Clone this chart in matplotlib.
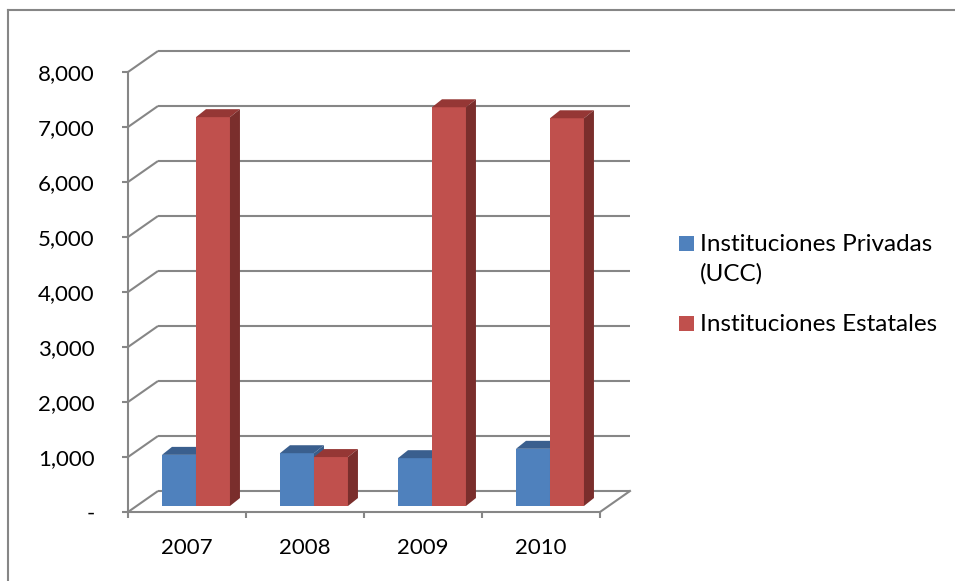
import matplotlib
matplotlib.use("Agg")
import matplotlib.pyplot as plt
from matplotlib.patches import Polygon, Rectangle
from matplotlib.lines import Line2D
import numpy as np

plt.rcParams['font.family'] = ['Lato', 'DejaVu Sans']

years = ["2007", "2008", "2009", "2010"]
privadas = [930, 960, 870, 1040]
estatales = [7070, 890, 7250, 7050]
series_names = ["Instituciones Privadas\n(UCC)", "Instituciones Estatales"]
ytick_vals = [0, 1000, 2000, 3000, 4000, 5000, 6000, 7000, 8000]
ytick_labels = ["-", "1,000", "2,000", "3,000", "4,000", "5,000", "6,000", "7,000", "8,000"]

W, H = 955, 581
fig = plt.figure(figsize=(W / 100, H / 100), dpi=100)
fig.patch.set_facecolor("white")

# axes: front plane in pixels x 128..600, y 72..512 (from top)
ax = fig.add_axes([128 / W, (H - 512) / H, 472 / W, 440 / H])
ax.set_xlim(0, 4)
ax.set_ylim(0, 8000)
ax.set_facecolor("none")

grid_c = "#868686"
lw = 1.5
DX, DY = 30 / 118, 21 / 55 * 1000          # wall depth
BX0, BY0 = 0.076, 109                      # bar front offset
BDX, BDY = 10 / 118, 145                   # bar depth
BW = 0.288

# walls
for v in ytick_vals:
    ax.plot([0, DX], [v, v + DY], color=grid_c, lw=lw, clip_on=False, zorder=1, solid_capstyle="butt")
    ax.plot([DX, 4 + DX], [v + DY, v + DY], color=grid_c, lw=lw, clip_on=False, zorder=1, solid_capstyle="butt")
ax.plot([4, 4 + DX], [0, DY], color=grid_c, lw=lw, clip_on=False, zorder=1)

colors = [("#4F81BD", "#3A5F8E", "#385D8A"), ("#C0504D", "#953735", "#7A2E2C")]
x = np.arange(len(years))
for i in range(len(years)):
    for s, vals in enumerate([privadas, estatales]):
        front, top, side = colors[s]
        x0 = x[i] + 0.5 - BW + s * BW + BX0
        v = vals[i]
        z = 3 + i * 2 + s
        ax.bar(x0, v, width=BW, bottom=BY0, align="edge", color=front, zorder=z, clip_on=False)
        ytop = BY0 + v
        ax.add_patch(Polygon([[x0, ytop], [x0 + BDX, ytop + BDY], [x0 + BW + BDX, ytop + BDY], [x0 + BW, ytop]],
                             closed=True, facecolor=top, edgecolor="none", zorder=z, clip_on=False))
        ax.add_patch(Polygon([[x0 + BW, BY0], [x0 + BW + BDX, BY0 + BDY], [x0 + BW + BDX, ytop + BDY], [x0 + BW, ytop]],
                             closed=True, facecolor=side, edgecolor="none", zorder=z, clip_on=False))

for sp in ["top", "right"]:
    ax.spines[sp].set_visible(False)
for sp in ["left", "bottom"]:
    ax.spines[sp].set_color(grid_c)
    ax.spines[sp].set_linewidth(lw)
    ax.spines[sp].set_zorder(2)

ax.set_yticks(ytick_vals)
ax.set_yticklabels(ytick_labels, fontsize=16)
ax.tick_params(axis="y", direction="out", length=4.5, width=lw, color=grid_c, pad=19.5)
ax.set_xticks(np.arange(0, 5))
ax.set_xticklabels([])
ax.set_xticks(x + 0.5, minor=True)
ax.set_xticklabels(years, minor=True, fontsize=16)
ax.tick_params(axis="x", which="major", direction="out", length=4.5, width=lw, color=grid_c)
ax.tick_params(axis="x", which="minor", length=0, pad=18.5)

# legend (drawn manually: marker aligned with first text line, as in Excel)
leg_base = [251, 331]   # baseline pixel rows of each entry
line_step = 30
for s, name in enumerate(series_names):
    yb = leg_base[s]
    fig.add_artist(Rectangle((679 / W, 1 - yb / H), 15 / W, 15 / H, transform=fig.transFigure,
                             facecolor=colors[s][0], edgecolor="none"))
    for k, line in enumerate(name.split("\n")):
        fig.text(700 / W, 1 - (yb + k * line_step) / H, line, fontsize=17.5, ha="left",
                 va="baseline", color="black")

# outer border (top and left)
fig.add_artist(Line2D([8 / W, 8 / W], [0, 1 - 10 / H], color=grid_c, lw=1.5, transform=fig.transFigure))
fig.add_artist(Line2D([8 / W, 1], [1 - 10 / H, 1 - 10 / H], color=grid_c, lw=1.5, transform=fig.transFigure))

fig.savefig("out.png", dpi=100, facecolor="white")
